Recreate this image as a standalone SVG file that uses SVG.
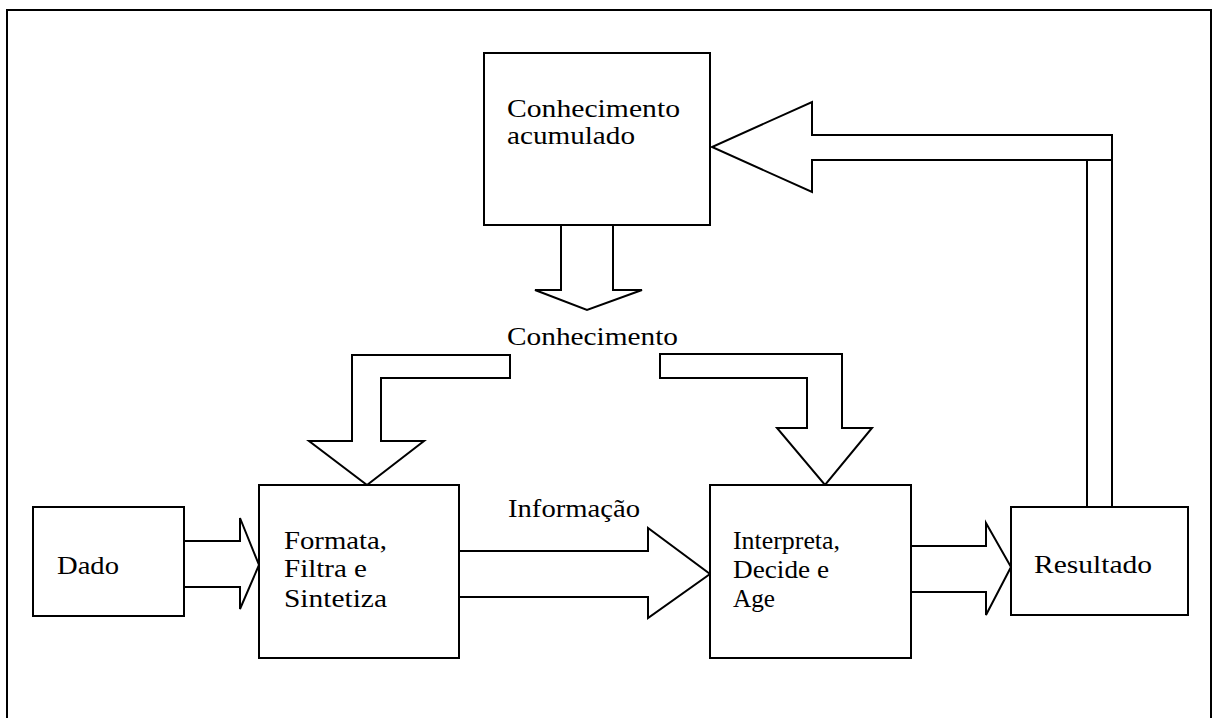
<svg xmlns="http://www.w3.org/2000/svg" width="1214" height="718" viewBox="0 0 1214 718">
<style>
.box{fill:#fff;stroke:#000;stroke-width:2}
.arr{fill:#fff;stroke:#000;stroke-width:2;stroke-linejoin:miter}
.t{font-family:"Liberation Serif","Times New Roman",serif;font-size:26px;fill:#000}
</style>
<rect x="0" y="0" width="1214" height="718" fill="#fff"/>
<path d="M7,720 V10 H1211 V720" fill="none" stroke="#000" stroke-width="2"/>
<g id="connectors">
<polygon class="arr" points="1087,507 1087,160 812,160 812,192 712,147 812,102 812,135 1112,135 1112,507"/>
<line x1="1087" y1="160" x2="1112" y2="160" stroke="#000" stroke-width="2"/>
<polygon class="arr" points="561,225 561,290 535,290 587,310 642,290 613,290 613,225"/>
<polygon class="arr" points="510,355 352,355 352,441 309,441 367,485 424,441 381,441 381,378 510,378"/>
<polygon class="arr" points="660,354 842,354 842,428 872,428 825,485 777,428 807,428 807,378 660,378"/>
<polygon class="arr" points="184,541 240,541 240,518 259,565 240,609 240,587 184,587"/>
<polygon class="arr" points="459,551 648,551 648,528 710,574 648,618 648,597 459,597"/>
<polygon class="arr" points="911,546 986,546 986,523 1011,567 986,615 986,592 911,592"/>
<text class="t" x="507" y="345" textLength="171" lengthAdjust="spacingAndGlyphs">Conhecimento</text>
<text class="t" x="508" y="517" textLength="132" lengthAdjust="spacingAndGlyphs">Informação</text>
</g>
<g id="acumulado">
<rect class="box" x="484" y="53" width="226" height="172"/>
<text class="t" x="507" y="117" textLength="173" lengthAdjust="spacingAndGlyphs">Conhecimento</text>
<text class="t" x="507" y="144" textLength="128" lengthAdjust="spacingAndGlyphs">acumulado</text>
</g>
<g id="dado">
<rect class="box" x="33" y="507" width="151" height="109"/>
<text class="t" x="57" y="574" textLength="62" lengthAdjust="spacingAndGlyphs">Dado</text>
</g>
<g id="formata">
<rect class="box" x="259" y="485" width="200" height="173"/>
<text class="t" x="284" y="549" textLength="103" lengthAdjust="spacingAndGlyphs">Formata,</text>
<text class="t" x="284" y="577" textLength="83" lengthAdjust="spacingAndGlyphs">Filtra e</text>
<text class="t" x="284" y="607" textLength="103" lengthAdjust="spacingAndGlyphs">Sintetiza</text>
</g>
<g id="interpreta">
<rect class="box" x="710" y="485" width="201" height="173"/>
<text class="t" x="733" y="549" textLength="107" lengthAdjust="spacingAndGlyphs">Interpreta,</text>
<text class="t" x="733" y="578" textLength="96" lengthAdjust="spacingAndGlyphs">Decide e</text>
<text class="t" x="733" y="607" textLength="42" lengthAdjust="spacingAndGlyphs">Age</text>
</g>
<g id="resultado">
<rect class="box" x="1011" y="507" width="177" height="108"/>
<text class="t" x="1034" y="573" textLength="118" lengthAdjust="spacingAndGlyphs">Resultado</text>
</g>
</svg>
